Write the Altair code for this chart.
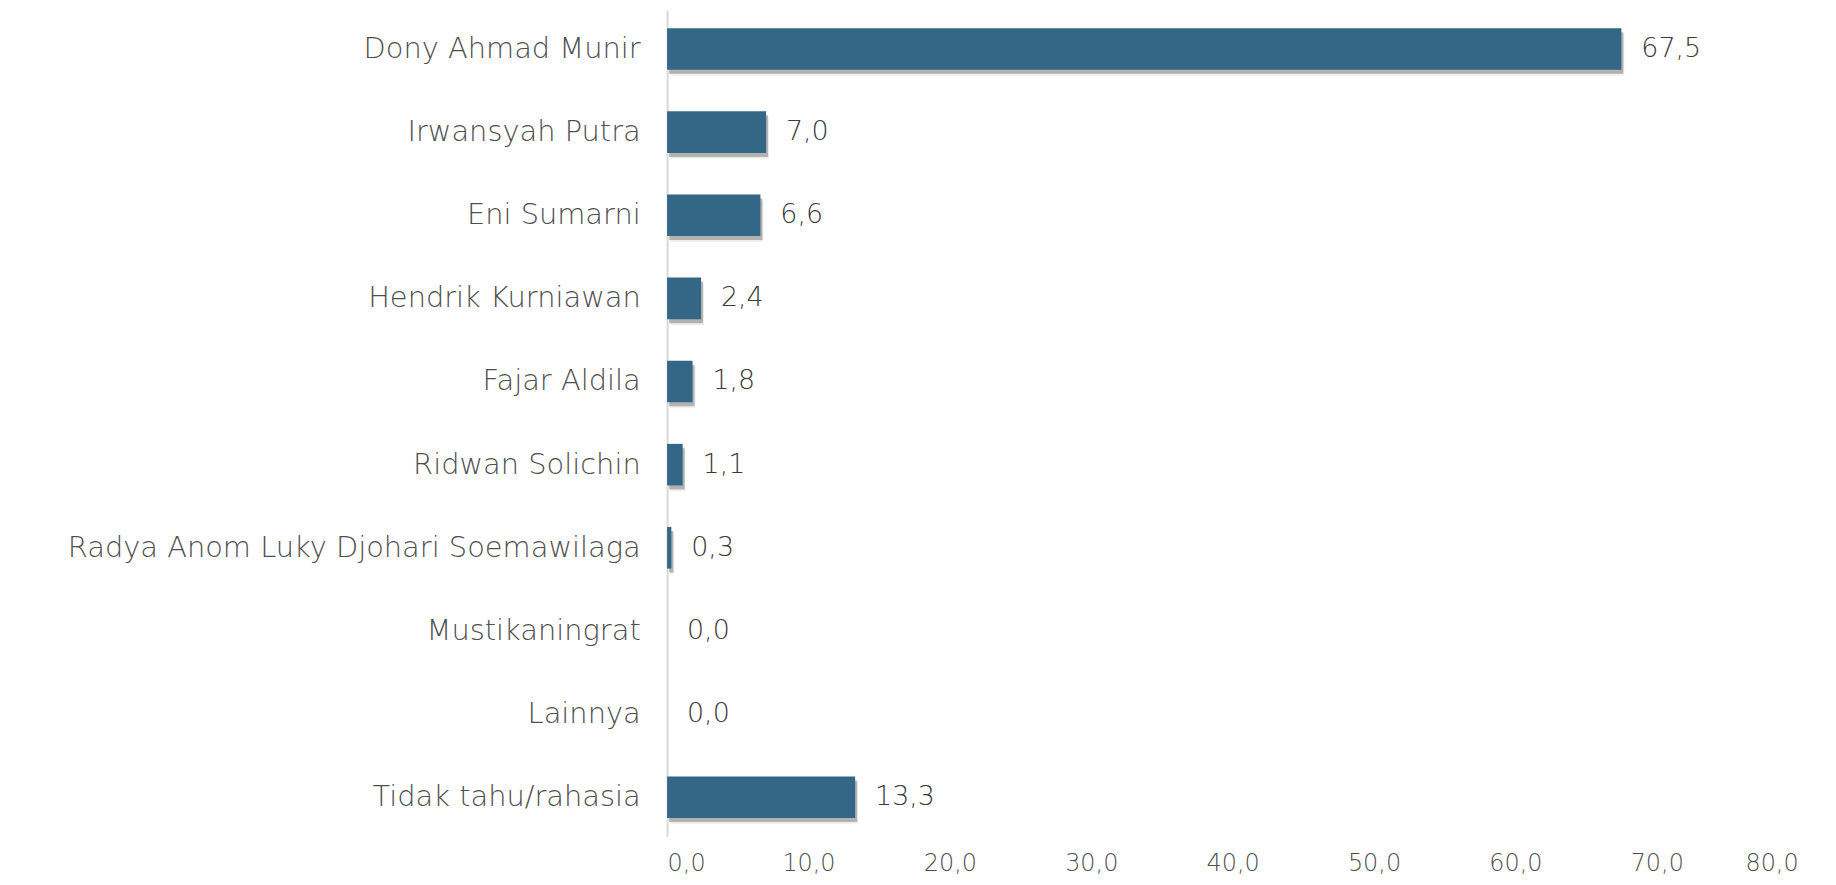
import altair as alt
import pandas as pd

categories = ["Dony Ahmad Munir", "Irwansyah Putra", "Eni Sumarni", "Hendrik Kurniawan",
              "Fajar Aldila", "Ridwan Solichin", "Radya Anom Luky Djohari Soemawilaga",
              "Mustikaningrat", "Lainnya", "Tidak tahu/rahasia"]
values = [67.5, 7.0, 6.6, 2.4, 1.8, 1.1, 0.3, 0.0, 0.0, 13.3]
x_ticks = [0, 10, 20, 30, 40, 50, 60, 70, 80]

df = pd.DataFrame({"cat": categories, "val": values})
df["label"] = [f"{v:.1f}".replace(".", ",") for v in values]

FONT = "DejaVu Sans"
y_enc = alt.Y("cat:N", sort=categories, title=None,
              scale=alt.Scale(paddingInner=0.5, paddingOuter=0.22),
              axis=alt.Axis(labelFont=FONT, labelFontSize=29, labelFontWeight=300,
                            labelColor="#4f4f4f",
                            labelPadding=27, ticks=False, domain=True,
                            domainColor="#d9d9d9", domainWidth=2, labelLimit=800))
x_enc = alt.X("val:Q", title=None,
              scale=alt.Scale(domain=[0, 80], nice=False),
              axis=alt.Axis(values=x_ticks, grid=False, domain=False, ticks=False,
                            labelFont=FONT, labelFontSize=24, labelFontWeight=300,
                            labelColor="#4f4f4f", labelPadding=15,
                            labelExpr="replace(format(datum.value, '.1f'), '.', ',')"))

base = alt.Chart(df)
shadow2 = base.mark_bar(color="#000000", opacity=0.06, xOffset=3, yOffset=6).encode(x=x_enc, y=y_enc)
shadow = base.mark_bar(color="#808080", opacity=0.55, xOffset=2, yOffset=4).encode(x=x_enc, y=y_enc)
bars = base.mark_bar(color="#336785").encode(x=x_enc, y=y_enc)
text = base.mark_text(align="left", baseline="middle", dx=20, font=FONT, fontSize=27,
                      fontWeight=300, color="#3a3a3a").encode(x=x_enc, y=y_enc, text="label:N")

chart = alt.layer(shadow2, shadow, bars, text).properties(
    width=1136, height=830,
    autosize=alt.AutoSizeParams(type="none"),
    padding={"left": 662, "top": 0, "right": 30, "bottom": 40},
).configure_view(stroke=None)

chart.save("out.html", embed_options={"renderer": "svg", "actions": False})
